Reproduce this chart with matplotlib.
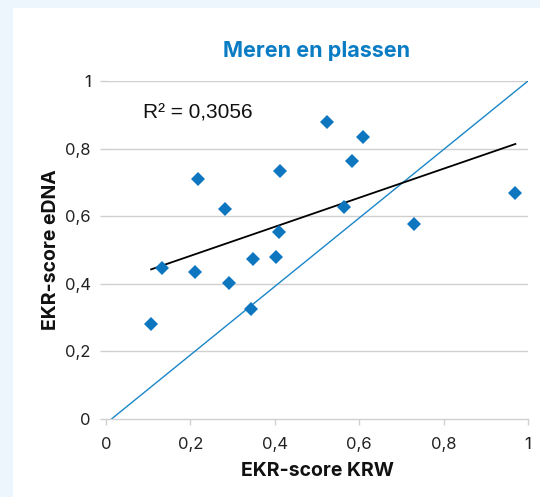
import numpy as np
import matplotlib
matplotlib.use("Agg")
import matplotlib.pyplot as plt
from matplotlib.patches import Rectangle

# Data
krw = [0.107, 0.132, 0.217, 0.210, 0.282, 0.292, 0.343, 0.348, 0.402, 0.409,
       0.412, 0.524, 0.564, 0.584, 0.609, 0.730, 0.970]
edna = [0.281, 0.446, 0.710, 0.435, 0.620, 0.401, 0.326, 0.472, 0.480, 0.554,
        0.735, 0.878, 0.628, 0.764, 0.834, 0.577, 0.670]
identity_x = [0.013, 1.0]
identity_y = [0.0, 1.0]
ticks = [0, 0.2, 0.4, 0.6, 0.8, 1.0]
tick_labels = ["0", "0,2", "0,4", "0,6", "0,8", "1"]
r2_label = "R² = 0,3056"

W, H = 540, 497
fig = plt.figure(figsize=(W / 100, H / 100), dpi=100)
fig.patch.set_facecolor("#eef6fd")
fig.patches.append(Rectangle((13 / W, 0), 1, 1 - 8 / H, transform=fig.transFigure,
                             facecolor="white", edgecolor="none", zorder=-5))

ax = fig.add_axes([106 / W, 1 - 419 / H, (528 - 106) / W, (419 - 81) / H])
ax.set_zorder(2)
ax.set_facecolor("none")
ax.set_xlim(0, 1)
ax.set_ylim(0, 1)

grid_c = "#d0d0d0"
for t in ticks[1:]:
    ax.axhline(t, color=grid_c, lw=1.0, zorder=1)

ax.plot(identity_x, identity_y, color="#1a86c8", lw=1.0, zorder=2)

xs = np.array(krw)
ys = np.array(edna)
m, b = np.polyfit(xs, ys, 1)
fx = np.array([xs.min(), xs.max()])
ax.plot(fx, m * fx + b, color="black", lw=1.3, zorder=3)

ax.plot(krw, edna, linestyle="none", marker="D", markersize=7.2,
        color="#0e76bf", markeredgewidth=0, zorder=4)

ax.text(0.088, 0.905, r2_label, fontsize=15, family="Liberation Sans",
        color="#111111", va="center", ha="left", transform=ax.transData)

for s in ["top", "right", "left"]:
    ax.spines[s].set_visible(False)
ax.spines["bottom"].set_color(grid_c)
ax.spines["bottom"].set_linewidth(1.0)

ax.set_xticks(ticks)
ax.set_xticklabels(tick_labels)
ax.set_yticks(ticks)
ax.set_yticklabels(tick_labels)
ax.tick_params(axis="both", colors=grid_c, labelcolor="#222222", labelsize=12,
               length=4, width=1)
ax.tick_params(axis="x", pad=9)
ax.tick_params(axis="y", pad=7)
for lab in ax.get_xticklabels() + ax.get_yticklabels():
    lab.set_family("Inter")

ax.set_xlabel("EKR-score KRW", fontsize=14, fontweight="bold", family="Inter",
              color="#111111", labelpad=7)
ax.set_ylabel("EKR-score eDNA", fontsize=14, fontweight="bold", family="Inter",
              color="#111111", labelpad=3)
ax.set_title("Meren en plassen", fontsize=15.5, fontweight="bold", family="Inter",
             color="#0a7cc4", pad=17)

fig.savefig("out.png", dpi=100, facecolor=fig.get_facecolor())
